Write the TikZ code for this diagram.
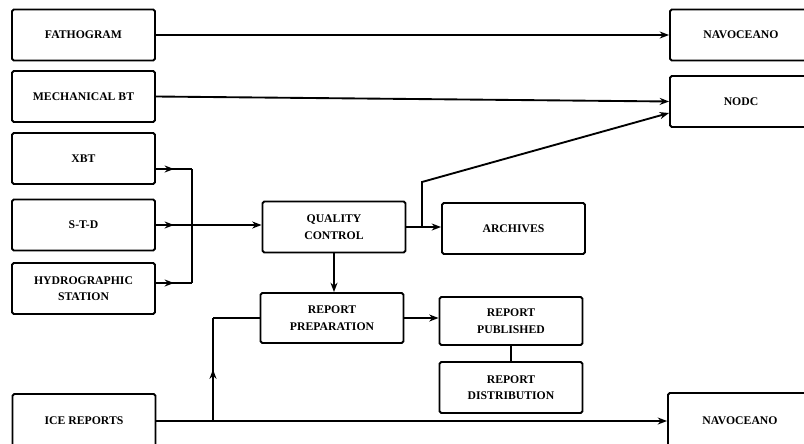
\documentclass[tikz,border=0pt]{standalone}
\usepackage{fontspec}
\setmainfont{Liberation Serif}
\usetikzlibrary{arrows.meta,calc,decorations.markings}

\begin{document}
\begin{tikzpicture}[x=0.03cm,y=-0.03cm,line width=1.6pt,>={Stealth[length=8pt,width=6pt]},
    every node/.style={font=\bfseries\fontsize{10}{14}\selectfont},
    box/.style={draw,rounded corners=1.5pt,align=center,minimum width=4.29cm,minimum height=1.53cm},
    midarrow/.style={postaction={decorate},decoration={markings,mark=at position 0.5 with {\arrow{Stealth[length=8pt,width=6pt]}}}}]
    \useasboundingbox (0,0) rectangle (804,444);
    \clip (0,0) rectangle (804,444);
            % sources
            \node[box] (fath) at (83.5,35) {FATHOGRAM};
            \node[box] (mbt) at (83.5,96.5) {MECHANICAL BT};
            \node[box] (xbt) at (83.5,158.5) {XBT};
            \node[box] (std) at (83.5,225) {S-T-D};
            \node[box] (hydro) at (83.5,288.5) {HYDROGRAPHIC\\STATION};
            \node[box,minimum height=1.62cm] (ice) at (84,421) {ICE REPORTS};
            % processing
            \node[box] (qc) at (334,227) {QUALITY\\CONTROL};
            \node[box] (arch) at (513.5,228.5) {ARCHIVES};
            \node[box,minimum height=1.5cm] (prep) at (332,318) {REPORT\\PREPARATION};
            \node[box,minimum height=1.44cm] (pub) at (511,321) {REPORT\\PUBLISHED};
            \node[box] (dist) at (511,387.5) {REPORT\\DISTRIBUTION};
            % receivers
            \node[box,minimum width=4.26cm] (nav) at (741,35) {NAVOCEANO};
            \node[box,minimum width=4.26cm] (nodc) at (741,101.5) {NODC};
            \node[box,minimum width=4.32cm,minimum height=1.68cm] (navb) at (740,421) {NAVOCEANO};
            \coordinate (bust) at (192,169);
            \coordinate (busb) at (192,283);
            \coordinate (tap) at (422,227);
            \coordinate (kink) at (422,182);
            \coordinate (icetap) at (213,421);
            \draw[->] (fath.east) -- (fath.east -| nav.west);
            \draw[->] (mbt.east) -- (nodc.west);
            \draw[midarrow] (xbt.east |- bust) -- (bust);
            \draw[midarrow] (hydro.east |- busb) -- (busb);
            \draw (bust) -- (busb);
            \draw[midarrow] (std.east) -- (std.east -| bust);
            \draw[->] (std.east -| bust) -- (std.east -| qc.west);
            \draw[->] (qc.east) -- (qc.east -| arch.west);
            \draw[->] (tap) -- (kink) -- ($(nodc.west)+(0,11.5)$);
            \draw[->] (qc.south) -- (qc.south |- prep.north);
            \draw[->] (prep.east) -- (prep.east -| pub.west);
            \draw (pub.south) -- (dist.north);
            \draw[->] (ice.east) -- (navb.west);
            \draw[midarrow] (icetap) -- (icetap |- prep.west);
            \draw (icetap |- prep.west) -- (prep.west);
        \end{tikzpicture}
\end{document}
